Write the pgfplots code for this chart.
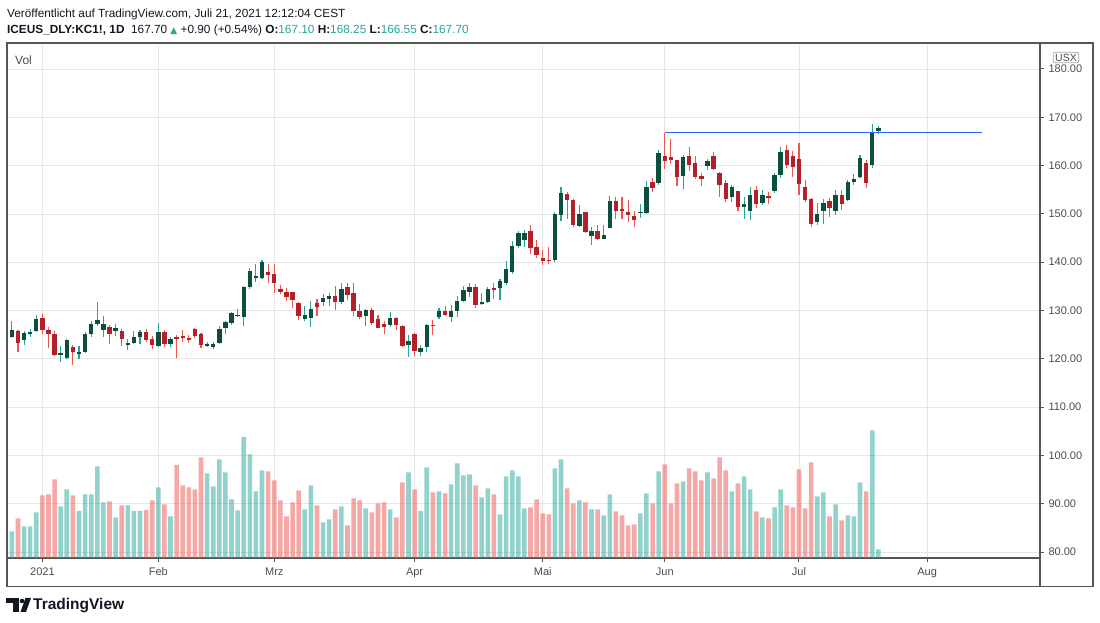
\documentclass[border=0pt]{standalone}
\usepackage{pgfplots}
\usepackage{pgfplotstable}
\pgfplotsset{compat=1.18}
\usepackage{fontspec}
\setmainfont{Liberation Sans}
\newfontfamily\symf{DejaVu Sans}
\definecolor{gridgray}{HTML}{E6E6E6}
\definecolor{axisgray}{HTML}{555555}
\definecolor{labelgray}{HTML}{4C4C4C}
\definecolor{upbody}{HTML}{0B4F3F}
\definecolor{downbody}{HTML}{B4202A}
\definecolor{upwick}{HTML}{26A69A}
\definecolor{downwick}{HTML}{EF5350}
\definecolor{tvteal}{HTML}{26A69A}
\definecolor{hlblue}{HTML}{2962FF}
\definecolor{txt}{HTML}{131722}

\pgfplotstableread{
i o h l c v
-6 124.3 124.6 124.0 124.3 30
-5 124.5 127.8 124.3 126.05 26.7
-4 125.85 125.9 121.4 123.2 39.7
-3 123.85 125.85 122.95 125.35 31.7
-2 125.4 126.25 124.45 125.45 31.7
-1 125.7 129.15 125.5 128.25 45.7
0 128.45 129.35 125.1 126.05 62.7
1 126.05 126.6 122.15 125.1 63.7
2 125.2 125.7 120.55 120.7 78.7
3 121.0 122.7 119.3 121.05 51.7
4 120.15 124.1 120.0 123.8 68.7
5 122.35 122.95 118.75 121.35 62.7
6 120.95 122.75 120.0 121.5 47
7 121.35 125.5 121.2 125.2 63.7
8 125.2 127.9 124.45 127.3 63.7
9 127.15 131.75 126.8 128.1 91.7
10 125.9 128.8 124.55 127.3 55.7
11 126.65 127.1 123.15 125.1 56.7
12 125.7 127.3 124.75 126.45 40.7
13 125.85 126.25 122.75 124.05 52.7
14 122.8 124.1 121.9 123.35 52.7
15 123.25 125.85 123.15 124.55 47
16 124.45 126.05 123.0 125.55 47
17 125.65 126.2 123.45 123.9 48
18 124.2 124.8 122.05 122.8 57.7
19 122.55 127.4 122.35 125.45 70.7
20 125.45 126.05 122.45 123.15 53.7
21 123.0 124.6 122.45 124.0 41.7
22 124.6 124.9 120.15 124.1 93
23 124.6 125.9 123.45 124.5 72.7
24 124.15 125.0 123.3 124.1 70.7
25 126.25 126.45 124.4 124.8 68.7
26 125.2 125.35 122.2 122.95 100.7
27 122.55 123.55 122.45 123.15 84.7
28 122.35 123.5 122.05 123.15 71.7
29 123.25 126.85 123.15 126.25 98.7
30 126.45 127.85 125.1 127.55 85.7
31 127.35 129.75 127.0 129.4 58.7
32 128.8 130.4 128.7 129.15 47.7
33 128.75 135.0 126.75 134.9 121
34 134.85 138.75 134.5 138.2 103.7
35 136.85 139.6 136.0 137.2 66.7
36 136.7 140.5 136.5 140.0 87.7
37 138.0 139.7 135.7 137.4 86.7
38 137.6 139.7 133.55 135.6 77.7
39 134.55 135.3 133.4 133.8 57.7
40 133.85 134.75 131.95 132.75 41.7
41 133.85 133.9 130.5 132.15 55.7
42 131.65 131.8 128.0 128.85 67.7
43 128.2 131.0 127.85 129.15 48.7
44 128.4 132.0 126.55 130.4 72.7
45 131.65 132.3 128.95 130.7 52.7
46 131.7 133.4 130.9 132.5 35.7
47 132.35 133.65 130.85 133.1 38.7
48 133.1 135.15 130.15 131.85 48.7
49 131.85 135.6 131.3 134.55 51.7
50 134.9 135.7 132.2 133.3 32.7
51 133.7 135.6 128.9 129.8 59.7
52 130.0 131.45 128.2 128.75 57.7
53 128.85 130.35 126.75 130.2 49.7
54 130.2 130.6 127.1 127.5 45.7
55 128.3 129.15 126.35 126.4 54.7
56 127.15 127.8 125.05 126.5 55.7
57 126.95 129.6 126.5 128.55 48.7
58 128.4 128.6 126.05 126.95 40.7
59 126.7 127.05 122.5 122.6 75.7
60 122.85 124.95 120.35 123.6 85.7
61 125.1 125.4 120.55 121.6 68.7
62 121.4 122.95 120.55 122.15 47
63 122.4 127.25 121.4 126.95 90.7
64 126.95 128.05 124.95 126.9 65.7
65 128.7 130.6 128.2 129.8 66.7
66 130.0 130.85 128.9 129.05 64.7
67 128.6 131.05 127.6 130.0 73.7
68 129.85 133.1 128.7 132.05 94.7
69 132.0 135.1 131.85 134.15 82.7
70 133.8 135.6 132.85 134.85 83.7
71 134.95 135.5 130.6 131.1 72.7
72 131.3 133.7 131.05 131.85 60.7
73 131.7 134.9 131.5 134.55 69.7
74 134.75 135.6 132.3 134.2 63.7
75 134.7 136.5 132.15 136.2 43.7
76 135.7 140.35 135.3 138.5 81.7
77 138.05 144.3 137.5 143.45 87.7
78 143.3 146.4 142.9 146.05 81.7
79 144.55 146.75 143.25 145.95 49.7
80 146.55 147.8 141.6 142.9 50.7
81 143.05 144.55 140.9 141.4 58.7
82 140.9 142.6 139.5 140.15 44.7
83 140.55 143.25 139.6 140.2 43.7
84 140.55 150.4 140.1 149.9 89.7
85 149.85 155.5 148.5 154.4 98.7
86 154.05 154.45 149.0 152.8 69.7
87 152.95 153.0 147.35 147.7 54.7
88 147.5 151.75 147.35 150.0 57.7
89 150.3 150.3 145.95 146.3 55.7
90 145.45 147.35 143.6 146.45 48.7
91 146.45 147.7 144.5 144.75 48.7
92 144.85 147.7 144.75 145.6 42.7
93 147.15 153.75 147.15 152.7 63.7
94 152.7 153.4 149.0 150.7 46.7
95 151.05 153.4 149.0 150.7 42.7
96 150.4 152.9 148.4 149.8 32.7
97 149.6 150.5 147.3 148.8 33.7
98 150.3 152.1 149.1 150.35 44.7
99 150.2 156.75 150.0 155.65 64.7
100 156.7 157.45 154.45 155.3 54.7
101 156.35 163.15 156.0 162.55 86.7
102 162.05 166.85 159.3 160.95 93.7
103 161.7 165.45 160.25 161.1 54.7
104 161.1 161.1 155.85 157.65 74.7
105 157.8 162.1 155.1 161.7 76.7
106 161.9 163.8 158.8 160.05 89.7
107 160.45 161.9 157.25 157.6 86.7
108 157.8 158.5 155.7 157.2 77.7
109 159.85 161.35 159.1 160.85 85.7
110 161.9 162.9 159.1 159.4 79.7
111 158.45 158.7 153.55 156.05 100.7
112 156.4 157.05 152.45 153.1 87.7
113 153.55 156.05 152.45 155.5 66.7
114 154.8 154.8 150.6 151.5 74.7
115 151.5 153.5 149.0 152.0 81.7
116 150.7 155.5 148.8 154.0 68.7
117 155.0 155.7 151.3 152.0 46.7
118 152.2 154.9 151.9 154.0 40.7
119 153.75 154.5 152.0 153.3 39.7
120 154.65 158.45 154.3 158.0 50.7
121 158.0 163.85 157.5 162.75 68.7
122 163.15 164.2 159.5 160.05 52.7
123 162.05 163.05 157.65 159.7 50.7
124 161.3 164.75 153.95 156.25 88.7
125 155.5 156.95 152.45 152.95 49.7
126 153.15 153.2 147.35 147.9 95.7
127 148.4 152.3 147.7 150.0 61.7
128 150.7 153.15 147.9 152.35 65.7
129 152.7 153.3 149.4 151.3 41.7
130 150.5 154.95 149.85 153.95 53.7
131 153.95 155.0 150.85 152.15 37.7
132 152.8 157.05 152.65 156.7 42.7
133 156.55 158.3 156.0 157.2 41.7
134 157.7 162.2 157.4 161.5 75.7
135 160.6 161.1 155.4 156.35 66.7
136 160.05 168.6 159.5 166.8 127.7
137 167.1 168.25 166.55 167.7 8.7
}\candles

\begin{document}
\begin{tikzpicture}
\path[use as bounding box] (-7pt,-65pt) rectangle (1093pt,558pt);
\fill[white] (-7pt,-65pt) rectangle (1093pt,558pt);

\begin{axis}[
  at={(0pt,0pt)}, anchor=south west,
  scale only axis, width=1033pt, height=513pt,
  xmin=-5.8, xmax=163.5, ymin=78.76, ymax=184.97,
  axis x line*=bottom, axis y line*=right,
  axis line style={draw=axisgray, line width=1.2pt},
  xtick={0,19,38,61,82,102,124,145},
  xticklabels={2021,Feb,Mrz,Apr,Mai,Jun,Jul,Aug},
  ytick={80,90,...,180},
  grid=major, major grid style={draw=gridgray, line width=0.8pt},
  tick align=outside, major tick length=4pt,
  tick style={draw=axisgray, line width=1pt},
  ticklabel style={font=\fontsize{11}{13}\selectfont, text=labelgray},
  xticklabel style={yshift=-2pt},
  yticklabel style={anchor=west, xshift=1pt,
    /pgf/number format/.cd, fixed, fixed zerofill, precision=2, 1000 sep={}},
  /pgf/number format/assume math mode=true,
]
% wicks
\addplot[draw=none, mark=none, forget plot,
  restrict expr to domain={\thisrow{c}-\thisrow{o}}{0:1000},
  error bars/.cd, y dir=both, y explicit, error mark=none,
  error bar style={draw=upwick, line width=1.1pt}]
  table[x=i, y expr={(\thisrow{h}+\thisrow{l})/2}, y error expr={(\thisrow{h}-\thisrow{l})/2}] {\candles};
\addplot[draw=none, mark=none, forget plot,
  restrict expr to domain={\thisrow{c}-\thisrow{o}}{-1000:-0.0001},
  error bars/.cd, y dir=both, y explicit, error mark=none,
  error bar style={draw=downwick, line width=1.1pt}]
  table[x=i, y expr={(\thisrow{h}+\thisrow{l})/2}, y error expr={(\thisrow{h}-\thisrow{l})/2}] {\candles};
% bodies
\addplot[draw=none, mark=none, forget plot,
  restrict expr to domain={\thisrow{c}-\thisrow{o}}{0:1000},
  error bars/.cd, y dir=both, y explicit, error mark=none,
  error bar style={draw=upbody, line width=4.4pt}]
  table[x=i, y expr={(\thisrow{o}+\thisrow{c})/2}, y error expr={max(abs(\thisrow{c}-\thisrow{o})/2,0.1)}] {\candles};
\addplot[draw=none, mark=none, forget plot,
  restrict expr to domain={\thisrow{c}-\thisrow{o}}{-1000:-0.0001},
  error bars/.cd, y dir=both, y explicit, error mark=none,
  error bar style={draw=downbody, line width=4.4pt}]
  table[x=i, y expr={(\thisrow{o}+\thisrow{c})/2}, y error expr={max(abs(\thisrow{c}-\thisrow{o})/2,0.1)}] {\candles};
% horizontal line
\addplot[draw=hlblue, line width=1pt, forget plot] coordinates {(102,166.8) (154,166.8)};
\end{axis}

\begin{axis}[
  at={(0pt,0pt)}, anchor=south west,
  scale only axis, width=1033pt, height=513pt,
  xmin=-5.8, xmax=163.5, ymin=0, ymax=513,
  hide axis, ybar, bar width=4.6pt, bar shift=0pt,
]
\addplot[fill=upwick, fill opacity=0.5, draw=none,
  restrict expr to domain={\thisrow{c}-\thisrow{o}}{0:1000}]
  table[x=i, y=v] {\candles};
\addplot[fill=downwick, fill opacity=0.5, draw=none,
  restrict expr to domain={\thisrow{c}-\thisrow{o}}{-1000:-0.0001}]
  table[x=i, y=v] {\candles};
\end{axis}

% frame
\draw[axisgray, line width=1.2pt] (0pt,515pt) rectangle (1086pt,-28.7pt);
\draw[axisgray, line width=1.2pt] (1033pt,515pt) -- (1033pt,-28.7pt);

% USX box
\node[draw=gray!70, fill=white, rounded corners=2pt, line width=0.7pt,
  inner xsep=2pt, inner ysep=1.5pt, anchor=center,
  font=\fontsize{10.5}{12}\selectfont, text=labelgray] at (1059pt,500.5pt) {USX};

% Vol label
\node[anchor=base west, inner sep=0pt, font=\fontsize{12}{14}\selectfont, text=labelgray] at (8pt,493pt) {Vol};

% header
\node[anchor=base west, inner sep=0pt, font=\fontsize{11.8}{14}\selectfont, text=txt] at (0pt,540pt)
  {Veröffentlicht auf TradingView.com, Juli 21, 2021 12:12:04 CEST};
\node[anchor=base west, inner sep=0pt, font=\fontsize{11.8}{14}\selectfont, text=txt] at (0pt,524.7pt)
  {\textbf{ICEUS\_DLY:KC1!, 1D}\ \ 167.70 {\color{tvteal}\symf\fontsize{9}{10}\selectfont ▲} +0.90 (+0.54\%) \textbf{O:}{\color{tvteal}167.10} \textbf{H:}{\color{tvteal}168.25} \textbf{L:}{\color{tvteal}166.55} \textbf{C:}{\color{tvteal}167.70}};

% logo
\fill[txt] (-1pt,-40pt) rectangle (12pt,-45pt);
\fill[txt] (6pt,-40pt) rectangle (12pt,-54pt);
\fill[txt] (15pt,-43pt) circle (2.3pt);
\fill[txt] (18.5pt,-40pt) -- (24pt,-40pt) -- (19pt,-54pt) -- (13.5pt,-54pt) -- cycle;
\node[anchor=base west, inner sep=0pt, font=\fontsize{15.5}{17}\selectfont\bfseries, text=txt] at (26pt,-52pt) {TradingView};
\end{tikzpicture}
\end{document}
